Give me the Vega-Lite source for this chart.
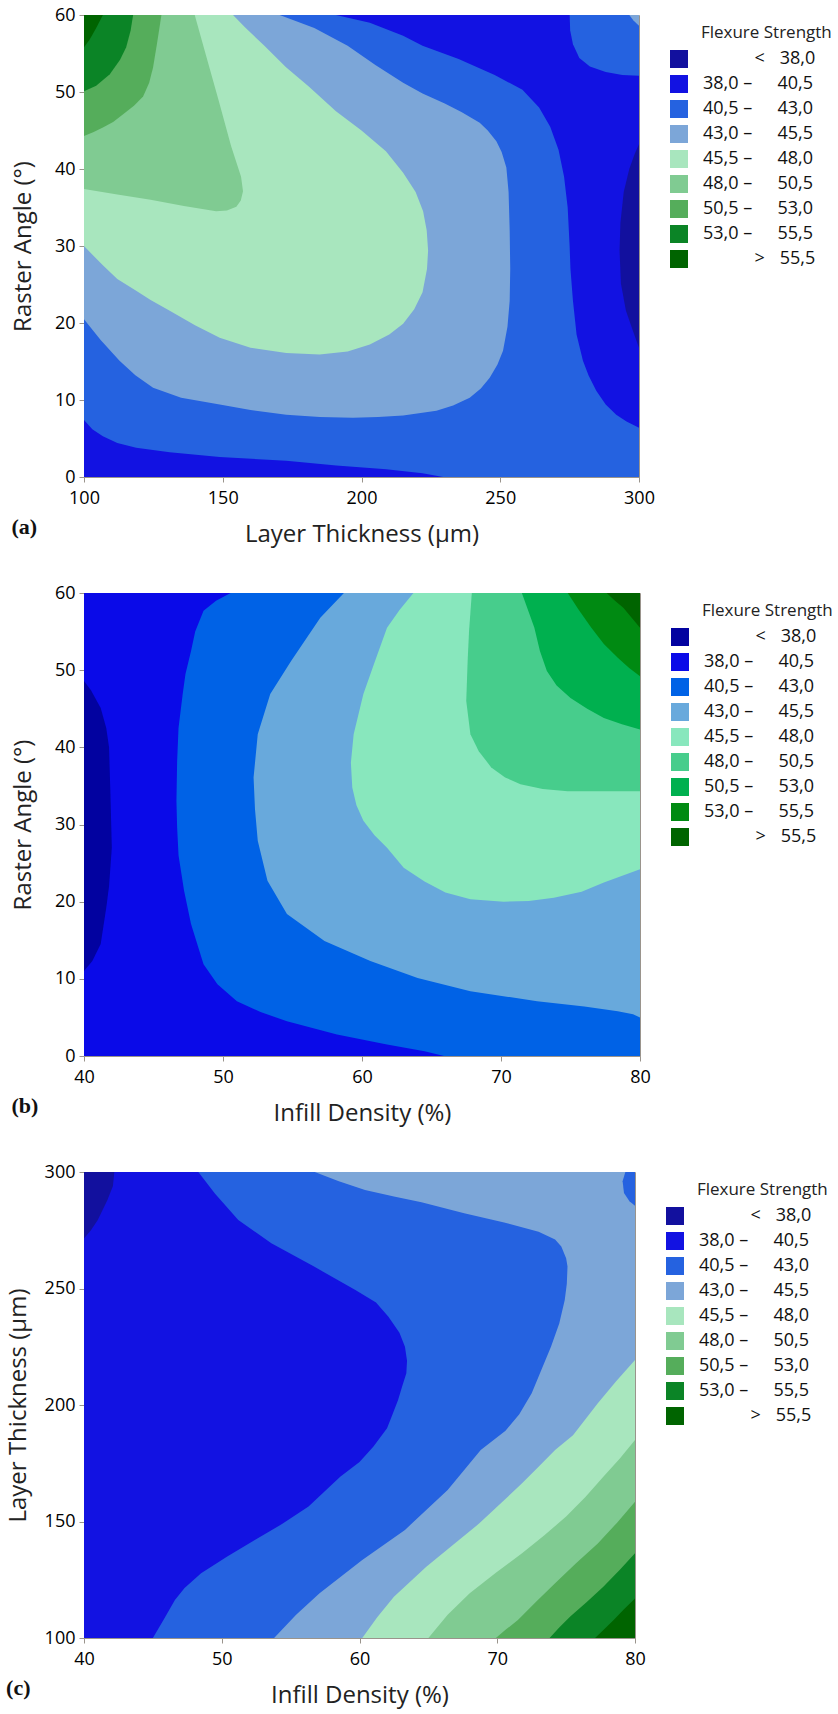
{
"$schema": "https://vega.github.io/schema/vega-lite/v6.json",
"background": "white",
"padding": {"left": 5, "top": 5, "right": 0, "bottom": 5},
"spacing": 36,
"config": {
  "font": "Open Sans",
  "view": {"stroke": "#9a948c", "strokeWidth": 1},
  "axis": {"grid": false, "domainColor": "#9a948c", "tickColor": "#9a948c", "tickSize": 5, "labelFontSize": 18, "labelColor": "#000", "labelFlush": false, "labelOverlap": false, "titleFontSize": 24, "titleFontWeight": "normal", "titleColor": "#222", "titlePadding": 14, "labelPadding": 4},
  "axisX": {"labelPadding": 7, "titlePadding": 15},
  "legend": {"orient": "none", "legendY": 10, "padding": 0, "symbolType": "square", "symbolSize": 324, "symbolStrokeWidth": 0, "labelFontSize": 18, "labelColor": "#111", "titleFontSize": 17, "titleFontWeight": "normal", "titleColor": "#222", "titlePadding": 8, "rowPadding": 7, "labelOffset": 15, "labelLimit": 200, "titleLimit": 250}
},
"datasets": {
"a": [
{"p":"a0","o":0,"c":1,"x":100,"y":0},{"p":"a0","o":0,"c":1,"x":300,"y":0},{"p":"a0","o":0,"c":1,"x":300,"y":60},{"p":"a0","o":0,"c":1,"x":100,"y":60},
{"p":"a1","o":1,"c":2,"x":100,"y":60},{"p":"a1","o":1,"c":2,"x":100,"y":7.4},{"p":"a1","o":1,"c":2,"x":103,"y":6.2},{"p":"a1","o":1,"c":2,"x":106.8,"y":5.3},{"p":"a1","o":1,"c":2,"x":112,"y":4.4},{"p":"a1","o":1,"c":2,"x":118.8,"y":3.8},{"p":"a1","o":1,"c":2,"x":130.9,"y":3.2},{"p":"a1","o":1,"c":2,"x":148.9,"y":2.6},{"p":"a1","o":1,"c":2,"x":172.9,"y":2.1},{"p":"a1","o":1,"c":2,"x":190.9,"y":1.5},{"p":"a1","o":1,"c":2,"x":208.9,"y":1.0},{"p":"a1","o":1,"c":2,"x":222,"y":0.5},{"p":"a1","o":1,"c":2,"x":229.4,"y":0},{"p":"a1","o":1,"c":2,"x":300,"y":0},{"p":"a1","o":1,"c":2,"x":300,"y":6.4},{"p":"a1","o":1,"c":2,"x":295.5,"y":7.2},{"p":"a1","o":1,"c":2,"x":291.8,"y":8.1},{"p":"a1","o":1,"c":2,"x":288,"y":9.4},{"p":"a1","o":1,"c":2,"x":284.6,"y":11.2},{"p":"a1","o":1,"c":2,"x":281.8,"y":13.2},{"p":"a1","o":1,"c":2,"x":279.8,"y":15.1},{"p":"a1","o":1,"c":2,"x":277.5,"y":18.5},{"p":"a1","o":1,"c":2,"x":276.2,"y":22.9},{"p":"a1","o":1,"c":2,"x":275.3,"y":27},{"p":"a1","o":1,"c":2,"x":275,"y":30},{"p":"a1","o":1,"c":2,"x":274.3,"y":35},{"p":"a1","o":1,"c":2,"x":273,"y":39},{"p":"a1","o":1,"c":2,"x":271,"y":42.5},{"p":"a1","o":1,"c":2,"x":268,"y":45.5},{"p":"a1","o":1,"c":2,"x":264,"y":48},{"p":"a1","o":1,"c":2,"x":258,"y":50.3},{"p":"a1","o":1,"c":2,"x":248,"y":52.2},{"p":"a1","o":1,"c":2,"x":235,"y":54.3},{"p":"a1","o":1,"c":2,"x":222,"y":56},{"p":"a1","o":1,"c":2,"x":215,"y":57.3},{"p":"a1","o":1,"c":2,"x":203,"y":59},{"p":"a1","o":1,"c":2,"x":190.8,"y":60},
{"p":"a2","o":1,"c":2,"x":275,"y":60},{"p":"a2","o":1,"c":2,"x":275.2,"y":58},{"p":"a2","o":1,"c":2,"x":276.2,"y":56.2},{"p":"a2","o":1,"c":2,"x":278.5,"y":54.4},{"p":"a2","o":1,"c":2,"x":282.3,"y":53.3},{"p":"a2","o":1,"c":2,"x":288,"y":52.6},{"p":"a2","o":1,"c":2,"x":294,"y":52.2},{"p":"a2","o":1,"c":2,"x":300,"y":52.1},{"p":"a2","o":1,"c":2,"x":300,"y":60},
{"p":"a4","o":1,"c":0,"x":300,"y":43.2},{"p":"a4","o":1,"c":0,"x":298.5,"y":42},{"p":"a4","o":1,"c":0,"x":296.5,"y":40},{"p":"a4","o":1,"c":0,"x":294.5,"y":37},{"p":"a4","o":1,"c":0,"x":293.3,"y":33},{"p":"a4","o":1,"c":0,"x":293,"y":29.4},{"p":"a4","o":1,"c":0,"x":293.5,"y":25.1},{"p":"a4","o":1,"c":0,"x":295.3,"y":21.6},{"p":"a4","o":1,"c":0,"x":297.8,"y":19},{"p":"a4","o":1,"c":0,"x":300,"y":16.8},
{"p":"a3","o":2,"c":3,"x":296.5,"y":60},{"p":"a3","o":2,"c":3,"x":298,"y":59.3},{"p":"a3","o":2,"c":3,"x":300,"y":58.6},{"p":"a3","o":2,"c":3,"x":300,"y":60},
{"p":"a5","o":2,"c":3,"x":100,"y":60},{"p":"a5","o":2,"c":3,"x":100,"y":20.5},{"p":"a5","o":2,"c":3,"x":106,"y":17.8},{"p":"a5","o":2,"c":3,"x":112.8,"y":15.1},{"p":"a5","o":2,"c":3,"x":118.5,"y":13.2},{"p":"a5","o":2,"c":3,"x":124.9,"y":11.6},{"p":"a5","o":2,"c":3,"x":135,"y":10.3},{"p":"a5","o":2,"c":3,"x":148.9,"y":9.4},{"p":"a5","o":2,"c":3,"x":160,"y":8.7},{"p":"a5","o":2,"c":3,"x":172.9,"y":8.1},{"p":"a5","o":2,"c":3,"x":185,"y":7.8},{"p":"a5","o":2,"c":3,"x":196.9,"y":7.7},{"p":"a5","o":2,"c":3,"x":206,"y":7.8},{"p":"a5","o":2,"c":3,"x":215,"y":8.0},{"p":"a5","o":2,"c":3,"x":227,"y":8.6},{"p":"a5","o":2,"c":3,"x":233,"y":9.3},{"p":"a5","o":2,"c":3,"x":239,"y":10.3},{"p":"a5","o":2,"c":3,"x":243,"y":11.5},{"p":"a5","o":2,"c":3,"x":246.2,"y":12.9},{"p":"a5","o":2,"c":3,"x":249,"y":14.6},{"p":"a5","o":2,"c":3,"x":251,"y":16.4},{"p":"a5","o":2,"c":3,"x":252.6,"y":19.5},{"p":"a5","o":2,"c":3,"x":253.4,"y":22.9},{"p":"a5","o":2,"c":3,"x":253.6,"y":27},{"p":"a5","o":2,"c":3,"x":253.4,"y":32},{"p":"a5","o":2,"c":3,"x":253,"y":37},{"p":"a5","o":2,"c":3,"x":252.2,"y":40.2},{"p":"a5","o":2,"c":3,"x":250.5,"y":42.2},{"p":"a5","o":2,"c":3,"x":248.6,"y":43.6},{"p":"a5","o":2,"c":3,"x":245.5,"y":45},{"p":"a5","o":2,"c":3,"x":242.6,"y":46},{"p":"a5","o":2,"c":3,"x":236,"y":47.4},{"p":"a5","o":2,"c":3,"x":230,"y":48.5},{"p":"a5","o":2,"c":3,"x":222,"y":49.8},{"p":"a5","o":2,"c":3,"x":215,"y":51.2},{"p":"a5","o":2,"c":3,"x":205,"y":53.5},{"p":"a5","o":2,"c":3,"x":195,"y":56},{"p":"a5","o":2,"c":3,"x":183,"y":58.3},{"p":"a5","o":2,"c":3,"x":170.5,"y":60},
{"p":"a6","o":3,"c":4,"x":100,"y":60},{"p":"a6","o":3,"c":4,"x":100,"y":30},{"p":"a6","o":3,"c":4,"x":103.5,"y":28.7},{"p":"a6","o":3,"c":4,"x":106.8,"y":27.5},{"p":"a6","o":3,"c":4,"x":112,"y":25.7},{"p":"a6","o":3,"c":4,"x":118.8,"y":24.2},{"p":"a6","o":3,"c":4,"x":124,"y":23},{"p":"a6","o":3,"c":4,"x":130.9,"y":21.6},{"p":"a6","o":3,"c":4,"x":140,"y":19.7},{"p":"a6","o":3,"c":4,"x":148.9,"y":18.1},{"p":"a6","o":3,"c":4,"x":160,"y":16.8},{"p":"a6","o":3,"c":4,"x":172.9,"y":16.1},{"p":"a6","o":3,"c":4,"x":184.9,"y":15.9},{"p":"a6","o":3,"c":4,"x":195,"y":16.3},{"p":"a6","o":3,"c":4,"x":203,"y":17.2},{"p":"a6","o":3,"c":4,"x":210,"y":18.5},{"p":"a6","o":3,"c":4,"x":215,"y":19.9},{"p":"a6","o":3,"c":4,"x":219,"y":21.8},{"p":"a6","o":3,"c":4,"x":222,"y":24},{"p":"a6","o":3,"c":4,"x":223.6,"y":27},{"p":"a6","o":3,"c":4,"x":224,"y":29.4},{"p":"a6","o":3,"c":4,"x":223.5,"y":32},{"p":"a6","o":3,"c":4,"x":222.2,"y":34.5},{"p":"a6","o":3,"c":4,"x":219.5,"y":37},{"p":"a6","o":3,"c":4,"x":215,"y":39.5},{"p":"a6","o":3,"c":4,"x":208.8,"y":42.3},{"p":"a6","o":3,"c":4,"x":200,"y":45},{"p":"a6","o":3,"c":4,"x":190.8,"y":47.5},{"p":"a6","o":3,"c":4,"x":181,"y":50.7},{"p":"a6","o":3,"c":4,"x":172.8,"y":53.2},{"p":"a6","o":3,"c":4,"x":165,"y":56},{"p":"a6","o":3,"c":4,"x":158,"y":58.4},{"p":"a6","o":3,"c":4,"x":153.7,"y":60},
{"p":"a7","o":4,"c":5,"x":100,"y":60},{"p":"a7","o":4,"c":5,"x":100,"y":37.4},{"p":"a7","o":4,"c":5,"x":112,"y":36.7},{"p":"a7","o":4,"c":5,"x":124,"y":36},{"p":"a7","o":4,"c":5,"x":136,"y":35.2},{"p":"a7","o":4,"c":5,"x":147.6,"y":34.5},{"p":"a7","o":4,"c":5,"x":151.5,"y":34.6},{"p":"a7","o":4,"c":5,"x":154.9,"y":35.1},{"p":"a7","o":4,"c":5,"x":156.5,"y":35.9},{"p":"a7","o":4,"c":5,"x":157.3,"y":37.1},{"p":"a7","o":4,"c":5,"x":156.6,"y":39},{"p":"a7","o":4,"c":5,"x":153,"y":43},{"p":"a7","o":4,"c":5,"x":148.6,"y":48.8},{"p":"a7","o":4,"c":5,"x":144,"y":54.7},{"p":"a7","o":4,"c":5,"x":139.9,"y":60},
{"p":"a8","o":5,"c":6,"x":100,"y":60},{"p":"a8","o":5,"c":6,"x":100,"y":44.3},{"p":"a8","o":5,"c":6,"x":103.5,"y":44.8},{"p":"a8","o":5,"c":6,"x":106.8,"y":45.4},{"p":"a8","o":5,"c":6,"x":110.5,"y":46.1},{"p":"a8","o":5,"c":6,"x":114.1,"y":47.1},{"p":"a8","o":5,"c":6,"x":118,"y":48.2},{"p":"a8","o":5,"c":6,"x":121.3,"y":49.4},{"p":"a8","o":5,"c":6,"x":123.5,"y":51.2},{"p":"a8","o":5,"c":6,"x":124.9,"y":53.2},{"p":"a8","o":5,"c":6,"x":126.4,"y":56.5},{"p":"a8","o":5,"c":6,"x":127.9,"y":60},
{"p":"a9","o":6,"c":7,"x":100,"y":60},{"p":"a9","o":6,"c":7,"x":100,"y":50.1},{"p":"a9","o":6,"c":7,"x":104.4,"y":50.8},{"p":"a9","o":6,"c":7,"x":109.3,"y":52.3},{"p":"a9","o":6,"c":7,"x":113,"y":54.2},{"p":"a9","o":6,"c":7,"x":115.2,"y":55.8},{"p":"a9","o":6,"c":7,"x":116.8,"y":58},{"p":"a9","o":6,"c":7,"x":117.7,"y":60},
{"p":"a10","o":7,"c":8,"x":100,"y":60},{"p":"a10","o":7,"c":8,"x":100,"y":55.8},{"p":"a10","o":7,"c":8,"x":102,"y":56.8},{"p":"a10","o":7,"c":8,"x":104.4,"y":58.3},{"p":"a10","o":7,"c":8,"x":106.8,"y":60}
],
"b": [
{"p":"b0","o":0,"c":1,"x":40,"y":0},{"p":"b0","o":0,"c":1,"x":80,"y":0},{"p":"b0","o":0,"c":1,"x":80,"y":60},{"p":"b0","o":0,"c":1,"x":40,"y":60},
{"p":"b1","o":1,"c":0,"x":40,"y":48.6},{"p":"b1","o":1,"c":0,"x":40.5,"y":47.4},{"p":"b1","o":1,"c":0,"x":41.2,"y":45.1},{"p":"b1","o":1,"c":0,"x":41.6,"y":42.5},{"p":"b1","o":1,"c":0,"x":41.8,"y":40},{"p":"b1","o":1,"c":0,"x":41.9,"y":34},{"p":"b1","o":1,"c":0,"x":42,"y":27},{"p":"b1","o":1,"c":0,"x":41.8,"y":22},{"p":"b1","o":1,"c":0,"x":41.6,"y":19.2},{"p":"b1","o":1,"c":0,"x":41.2,"y":14.5},{"p":"b1","o":1,"c":0,"x":40.6,"y":12.3},{"p":"b1","o":1,"c":0,"x":40,"y":11},
{"p":"b2","o":1,"c":2,"x":50.55,"y":60},{"p":"b2","o":1,"c":2,"x":49.5,"y":59},{"p":"b2","o":1,"c":2,"x":48.6,"y":57.7},{"p":"b2","o":1,"c":2,"x":48,"y":55},{"p":"b2","o":1,"c":2,"x":47.7,"y":52.5},{"p":"b2","o":1,"c":2,"x":47.3,"y":49.5},{"p":"b2","o":1,"c":2,"x":47.1,"y":46.9},{"p":"b2","o":1,"c":2,"x":46.8,"y":42.5},{"p":"b2","o":1,"c":2,"x":46.7,"y":38.2},{"p":"b2","o":1,"c":2,"x":46.65,"y":33},{"p":"b2","o":1,"c":2,"x":46.7,"y":29.6},{"p":"b2","o":1,"c":2,"x":46.8,"y":26},{"p":"b2","o":1,"c":2,"x":47.2,"y":21.4},{"p":"b2","o":1,"c":2,"x":47.7,"y":17.1},{"p":"b2","o":1,"c":2,"x":48.6,"y":11.9},{"p":"b2","o":1,"c":2,"x":49.6,"y":9.3},{"p":"b2","o":1,"c":2,"x":51,"y":7.1},{"p":"b2","o":1,"c":2,"x":52.7,"y":5.7},{"p":"b2","o":1,"c":2,"x":54.6,"y":4.5},{"p":"b2","o":1,"c":2,"x":58.2,"y":2.8},{"p":"b2","o":1,"c":2,"x":61.8,"y":1.5},{"p":"b2","o":1,"c":2,"x":64.5,"y":0.6},{"p":"b2","o":1,"c":2,"x":65.9,"y":0},{"p":"b2","o":1,"c":2,"x":80,"y":0},{"p":"b2","o":1,"c":2,"x":80,"y":60},
{"p":"b3","o":2,"c":3,"x":58.7,"y":60},{"p":"b3","o":2,"c":3,"x":57,"y":56.8},{"p":"b3","o":2,"c":3,"x":54.9,"y":51.2},{"p":"b3","o":2,"c":3,"x":53.4,"y":46.9},{"p":"b3","o":2,"c":3,"x":52.5,"y":41.7},{"p":"b3","o":2,"c":3,"x":52.2,"y":36.1},{"p":"b3","o":2,"c":3,"x":52.3,"y":32},{"p":"b3","o":2,"c":3,"x":52.5,"y":27.9},{"p":"b3","o":2,"c":3,"x":53.2,"y":22.7},{"p":"b3","o":2,"c":3,"x":54.6,"y":18.4},{"p":"b3","o":2,"c":3,"x":57.3,"y":14.9},{"p":"b3","o":2,"c":3,"x":60.6,"y":12.3},{"p":"b3","o":2,"c":3,"x":64,"y":10.1},{"p":"b3","o":2,"c":3,"x":67.8,"y":8.4},{"p":"b3","o":2,"c":3,"x":72.6,"y":7.1},{"p":"b3","o":2,"c":3,"x":76,"y":6.4},{"p":"b3","o":2,"c":3,"x":78.4,"y":5.8},{"p":"b3","o":2,"c":3,"x":79.5,"y":5.4},{"p":"b3","o":2,"c":3,"x":80,"y":5},{"p":"b3","o":2,"c":3,"x":80,"y":60},
{"p":"b4","o":3,"c":4,"x":63.7,"y":60},{"p":"b4","o":3,"c":4,"x":62.7,"y":57.8},{"p":"b4","o":3,"c":4,"x":61.8,"y":55.5},{"p":"b4","o":3,"c":4,"x":60.9,"y":51},{"p":"b4","o":3,"c":4,"x":60.1,"y":46.9},{"p":"b4","o":3,"c":4,"x":59.4,"y":41.7},{"p":"b4","o":3,"c":4,"x":59.2,"y":38},{"p":"b4","o":3,"c":4,"x":59.3,"y":34.8},{"p":"b4","o":3,"c":4,"x":59.6,"y":32.5},{"p":"b4","o":3,"c":4,"x":60.1,"y":30.5},{"p":"b4","o":3,"c":4,"x":60.9,"y":28.6},{"p":"b4","o":3,"c":4,"x":61.8,"y":27},{"p":"b4","o":3,"c":4,"x":63,"y":24.4},{"p":"b4","o":3,"c":4,"x":64.5,"y":22.6},{"p":"b4","o":3,"c":4,"x":66,"y":21.2},{"p":"b4","o":3,"c":4,"x":67.8,"y":20.3},{"p":"b4","o":3,"c":4,"x":70.2,"y":20},{"p":"b4","o":3,"c":4,"x":72,"y":20.1},{"p":"b4","o":3,"c":4,"x":73.8,"y":20.5},{"p":"b4","o":3,"c":4,"x":75.8,"y":21.3},{"p":"b4","o":3,"c":4,"x":77.4,"y":22.5},{"p":"b4","o":3,"c":4,"x":80,"y":24.2},{"p":"b4","o":3,"c":4,"x":80,"y":60},
{"p":"b5","o":4,"c":5,"x":67.9,"y":60},{"p":"b5","o":4,"c":5,"x":67.7,"y":55},{"p":"b5","o":4,"c":5,"x":67.6,"y":51.2},{"p":"b5","o":4,"c":5,"x":67.5,"y":46},{"p":"b5","o":4,"c":5,"x":67.8,"y":41.7},{"p":"b5","o":4,"c":5,"x":68.4,"y":39.5},{"p":"b5","o":4,"c":5,"x":69.3,"y":37.4},{"p":"b5","o":4,"c":5,"x":70.3,"y":36.1},{"p":"b5","o":4,"c":5,"x":71.4,"y":35.2},{"p":"b5","o":4,"c":5,"x":73,"y":34.6},{"p":"b5","o":4,"c":5,"x":74.8,"y":34.3},{"p":"b5","o":4,"c":5,"x":80,"y":34.3},{"p":"b5","o":4,"c":5,"x":80,"y":60},
{"p":"b6","o":5,"c":6,"x":71.5,"y":60},{"p":"b6","o":5,"c":6,"x":72,"y":57.5},{"p":"b6","o":5,"c":6,"x":72.4,"y":55.5},{"p":"b6","o":5,"c":6,"x":72.8,"y":52.5},{"p":"b6","o":5,"c":6,"x":73.3,"y":49.9},{"p":"b6","o":5,"c":6,"x":74,"y":48},{"p":"b6","o":5,"c":6,"x":75,"y":46.4},{"p":"b6","o":5,"c":6,"x":76.2,"y":45},{"p":"b6","o":5,"c":6,"x":77.4,"y":43.8},{"p":"b6","o":5,"c":6,"x":78.7,"y":43},{"p":"b6","o":5,"c":6,"x":80,"y":42.3},{"p":"b6","o":5,"c":6,"x":80,"y":60},
{"p":"b7","o":6,"c":7,"x":74.8,"y":60},{"p":"b7","o":6,"c":7,"x":75.6,"y":57.8},{"p":"b7","o":6,"c":7,"x":76.5,"y":55.5},{"p":"b7","o":6,"c":7,"x":77.4,"y":53.4},{"p":"b7","o":6,"c":7,"x":78.4,"y":51.6},{"p":"b7","o":6,"c":7,"x":79.2,"y":50.3},{"p":"b7","o":6,"c":7,"x":80,"y":49.2},{"p":"b7","o":6,"c":7,"x":80,"y":60},
{"p":"b8","o":7,"c":8,"x":77.6,"y":60},{"p":"b8","o":7,"c":8,"x":78.2,"y":59},{"p":"b8","o":7,"c":8,"x":78.8,"y":58.1},{"p":"b8","o":7,"c":8,"x":79.4,"y":56.8},{"p":"b8","o":7,"c":8,"x":80,"y":55.5},{"p":"b8","o":7,"c":8,"x":80,"y":60}
],
"c": [
{"p":"c0","o":0,"c":1,"x":40,"y":100},{"p":"c0","o":0,"c":1,"x":80,"y":100},{"p":"c0","o":0,"c":1,"x":80,"y":300},{"p":"c0","o":0,"c":1,"x":40,"y":300},
{"p":"c1","o":1,"c":0,"x":40,"y":300},{"p":"c1","o":1,"c":0,"x":42.2,"y":300},{"p":"c1","o":1,"c":0,"x":42.1,"y":294},{"p":"c1","o":1,"c":0,"x":41.7,"y":288},{"p":"c1","o":1,"c":0,"x":41,"y":279.4},{"p":"c1","o":1,"c":0,"x":40.5,"y":275},{"p":"c1","o":1,"c":0,"x":40,"y":271.5},
{"p":"c2","o":1,"c":2,"x":48.3,"y":300},{"p":"c2","o":1,"c":2,"x":49.5,"y":290.8},{"p":"c2","o":1,"c":2,"x":51.2,"y":279.4},{"p":"c2","o":1,"c":2,"x":53.6,"y":269.4},{"p":"c2","o":1,"c":2,"x":56.7,"y":259.4},{"p":"c2","o":1,"c":2,"x":59.7,"y":249.4},{"p":"c2","o":1,"c":2,"x":61.2,"y":244},{"p":"c2","o":1,"c":2,"x":62.1,"y":237.9},{"p":"c2","o":1,"c":2,"x":62.9,"y":231},{"p":"c2","o":1,"c":2,"x":63.3,"y":225},{"p":"c2","o":1,"c":2,"x":63.45,"y":219},{"p":"c2","o":1,"c":2,"x":63.4,"y":213.6},{"p":"c2","o":1,"c":2,"x":63.1,"y":208},{"p":"c2","o":1,"c":2,"x":62.8,"y":202.1},{"p":"c2","o":1,"c":2,"x":62.4,"y":196},{"p":"c2","o":1,"c":2,"x":62,"y":190},{"p":"c2","o":1,"c":2,"x":61,"y":182.1},{"p":"c2","o":1,"c":2,"x":60,"y":175.5},{"p":"c2","o":1,"c":2,"x":58.6,"y":169.2},{"p":"c2","o":1,"c":2,"x":56.3,"y":156.4},{"p":"c2","o":1,"c":2,"x":54.4,"y":149},{"p":"c2","o":1,"c":2,"x":52.4,"y":142.1},{"p":"c2","o":1,"c":2,"x":50.4,"y":135},{"p":"c2","o":1,"c":2,"x":48.5,"y":127.8},{"p":"c2","o":1,"c":2,"x":47.3,"y":121.5},{"p":"c2","o":1,"c":2,"x":46.6,"y":116.3},{"p":"c2","o":1,"c":2,"x":45.8,"y":108},{"p":"c2","o":1,"c":2,"x":45,"y":100},{"p":"c2","o":1,"c":2,"x":80,"y":100},{"p":"c2","o":1,"c":2,"x":80,"y":300},
{"p":"c3","o":2,"c":3,"x":56.75,"y":300},{"p":"c3","o":2,"c":3,"x":58.5,"y":296},{"p":"c3","o":2,"c":3,"x":60.4,"y":292.3},{"p":"c3","o":2,"c":3,"x":62.5,"y":289.5},{"p":"c3","o":2,"c":3,"x":64.5,"y":287},{"p":"c3","o":2,"c":3,"x":67.6,"y":282.3},{"p":"c3","o":2,"c":3,"x":70.5,"y":278.3},{"p":"c3","o":2,"c":3,"x":73,"y":274.4},{"p":"c3","o":2,"c":3,"x":74.2,"y":271},{"p":"c3","o":2,"c":3,"x":74.65,"y":268},{"p":"c3","o":2,"c":3,"x":75,"y":263},{"p":"c3","o":2,"c":3,"x":75.1,"y":259.4},{"p":"c3","o":2,"c":3,"x":75.05,"y":252},{"p":"c3","o":2,"c":3,"x":74.9,"y":245.1},{"p":"c3","o":2,"c":3,"x":74.5,"y":235},{"p":"c3","o":2,"c":3,"x":73.9,"y":225},{"p":"c3","o":2,"c":3,"x":73.2,"y":215},{"p":"c3","o":2,"c":3,"x":72.5,"y":205},{"p":"c3","o":2,"c":3,"x":71.6,"y":196},{"p":"c3","o":2,"c":3,"x":70.6,"y":189},{"p":"c3","o":2,"c":3,"x":68.8,"y":180.7},{"p":"c3","o":2,"c":3,"x":66.4,"y":163.5},{"p":"c3","o":2,"c":3,"x":63.3,"y":146.4},{"p":"c3","o":2,"c":3,"x":60.2,"y":133.5},{"p":"c3","o":2,"c":3,"x":57.1,"y":119.2},{"p":"c3","o":2,"c":3,"x":55.4,"y":110},{"p":"c3","o":2,"c":3,"x":53.8,"y":100},{"p":"c3","o":2,"c":3,"x":80,"y":100},{"p":"c3","o":2,"c":3,"x":80,"y":300},
{"p":"c4","o":3,"c":2,"x":79.3,"y":300},{"p":"c4","o":3,"c":2,"x":79.1,"y":296},{"p":"c4","o":3,"c":2,"x":79.2,"y":291},{"p":"c4","o":3,"c":2,"x":79.6,"y":287.5},{"p":"c4","o":3,"c":2,"x":80,"y":285.5},{"p":"c4","o":3,"c":2,"x":80,"y":300},
{"p":"c5","o":3,"c":4,"x":60.2,"y":100},{"p":"c5","o":3,"c":4,"x":61.3,"y":109},{"p":"c5","o":3,"c":4,"x":62.5,"y":117.7},{"p":"c5","o":3,"c":4,"x":64.85,"y":130.6},{"p":"c5","o":3,"c":4,"x":66.8,"y":140},{"p":"c5","o":3,"c":4,"x":68.7,"y":149.2},{"p":"c5","o":3,"c":4,"x":70.3,"y":158},{"p":"c5","o":3,"c":4,"x":71.8,"y":166.4},{"p":"c5","o":3,"c":4,"x":73,"y":173.5},{"p":"c5","o":3,"c":4,"x":74.2,"y":180.7},{"p":"c5","o":3,"c":4,"x":75.5,"y":187},{"p":"c5","o":3,"c":4,"x":77.3,"y":200.7},{"p":"c5","o":3,"c":4,"x":78.6,"y":210},{"p":"c5","o":3,"c":4,"x":80,"y":219.3},{"p":"c5","o":3,"c":4,"x":80,"y":100},
{"p":"c6","o":4,"c":5,"x":65,"y":100},{"p":"c6","o":4,"c":5,"x":66.4,"y":110},{"p":"c6","o":4,"c":5,"x":68,"y":119.2},{"p":"c6","o":4,"c":5,"x":69.9,"y":128},{"p":"c6","o":4,"c":5,"x":71.8,"y":136.4},{"p":"c6","o":4,"c":5,"x":73.4,"y":144},{"p":"c6","o":4,"c":5,"x":75,"y":152.1},{"p":"c6","o":4,"c":5,"x":76.4,"y":160.5},{"p":"c6","o":4,"c":5,"x":77.7,"y":169.2},{"p":"c6","o":4,"c":5,"x":78.9,"y":177},{"p":"c6","o":4,"c":5,"x":80,"y":185},{"p":"c6","o":4,"c":5,"x":80,"y":100},
{"p":"c7","o":5,"c":6,"x":69.9,"y":100},{"p":"c7","o":5,"c":6,"x":70.6,"y":103.5},{"p":"c7","o":5,"c":6,"x":71.5,"y":107.7},{"p":"c7","o":5,"c":6,"x":72.8,"y":115.5},{"p":"c7","o":5,"c":6,"x":74.2,"y":123.5},{"p":"c7","o":5,"c":6,"x":75.7,"y":132},{"p":"c7","o":5,"c":6,"x":77.3,"y":140.6},{"p":"c7","o":5,"c":6,"x":78.7,"y":149.5},{"p":"c7","o":5,"c":6,"x":80,"y":158.5},{"p":"c7","o":5,"c":6,"x":80,"y":100},
{"p":"c8","o":6,"c":7,"x":73.8,"y":100},{"p":"c8","o":6,"c":7,"x":74.5,"y":104.5},{"p":"c8","o":6,"c":7,"x":75.3,"y":109.2},{"p":"c8","o":6,"c":7,"x":76.5,"y":115.5},{"p":"c8","o":6,"c":7,"x":77.7,"y":122},{"p":"c8","o":6,"c":7,"x":78.9,"y":129.3},{"p":"c8","o":6,"c":7,"x":80,"y":136.4},{"p":"c8","o":6,"c":7,"x":80,"y":100},
{"p":"c9","o":7,"c":8,"x":77.1,"y":100},{"p":"c9","o":7,"c":8,"x":77.8,"y":104},{"p":"c9","o":7,"c":8,"x":78.45,"y":107.7},{"p":"c9","o":7,"c":8,"x":79.2,"y":112.3},{"p":"c9","o":7,"c":8,"x":80,"y":117},{"p":"c9","o":7,"c":8,"x":80,"y":100}
]
},
"vconcat": [
{
  "width": 555, "height": 462,
  "title": {"text": "(a)", "orient": "bottom", "anchor": "start", "frame": "bounds", "font": "Liberation Serif", "fontWeight": "bold", "fontSize": 22, "offset": -29, "color": "#111"},
  "data": {"name": "a"},
  "encoding": {
    "x": {"field": "x", "type": "quantitative", "scale": {"domain": [100, 300], "nice": false, "zero": false}, "axis": {"values": [100, 150, 200, 250, 300], "title": "Layer Thickness (μm)"}},
    "y": {"field": "y", "type": "quantitative", "scale": {"domain": [0, 60], "nice": false, "zero": false}, "axis": {"values": [0, 10, 20, 30, 40, 50, 60], "title": "Raster Angle (°)", "titlePadding": 19}},
    "color": {"field": "c", "type": "nominal", "scale": {"domain": [0, 1, 2, 3, 4, 5, 6, 7, 8], "range": ["#12109e", "#1212e2", "#2562e0", "#7ca6d8", "#a8e6be", "#80cb92", "#55ad5b", "#0b8426", "#006400"]},
      "legend": {"title": "\u200b\u00a0\u00a0\u00a0\u00a0\u00a0\u00a0\u00a0Flexure Strength", "legendX": 586, "labelExpr": "['\u200b\u2007\u2007\u2007\u2007\u2007<\u2007\u00a038,0','38,0\u00a0\u2013\u2007\u2007\u00a040,5','40,5\u00a0\u2013\u2007\u2007\u00a043,0','43,0\u00a0\u2013\u2007\u2007\u00a045,5','45,5\u00a0\u2013\u2007\u2007\u00a048,0','48,0\u00a0\u2013\u2007\u2007\u00a050,5','50,5\u00a0\u2013\u2007\u2007\u00a053,0','53,0\u00a0\u2013\u2007\u2007\u00a055,5','\u200b\u2007\u2007\u2007\u2007\u2007>\u2007\u00a055,5'][datum.value]"}},
    "detail": {"field": "p", "type": "nominal"},
    "order": {"value": null}
  },
  "layer": [
    {"transform": [{"filter": "datum.o == 0"}], "mark": {"type": "line", "filled": true, "clip": true}},
    {"transform": [{"filter": "datum.o == 1"}], "mark": {"type": "line", "filled": true, "clip": true}},
    {"transform": [{"filter": "datum.o == 2"}], "mark": {"type": "line", "filled": true, "clip": true}},
    {"transform": [{"filter": "datum.o == 3"}], "mark": {"type": "line", "filled": true, "clip": true}},
    {"transform": [{"filter": "datum.o == 4"}], "mark": {"type": "line", "filled": true, "clip": true}},
    {"transform": [{"filter": "datum.o == 5"}], "mark": {"type": "line", "filled": true, "clip": true}},
    {"transform": [{"filter": "datum.o == 6"}], "mark": {"type": "line", "filled": true, "clip": true}},
    {"transform": [{"filter": "datum.o == 7"}], "mark": {"type": "line", "filled": true, "clip": true}}
  ]
},
{
  "width": 556, "height": 463,
  "title": {"text": "(b)", "orient": "bottom", "anchor": "start", "frame": "bounds", "font": "Liberation Serif", "fontWeight": "bold", "fontSize": 22, "offset": -29, "color": "#111"},
  "data": {"name": "b"},
  "encoding": {
    "x": {"field": "x", "type": "quantitative", "scale": {"domain": [40, 80], "nice": false, "zero": false}, "axis": {"values": [40, 50, 60, 70, 80], "title": "Infill Density (%)"}},
    "y": {"field": "y", "type": "quantitative", "scale": {"domain": [0, 60], "nice": false, "zero": false}, "axis": {"values": [0, 10, 20, 30, 40, 50, 60], "title": "Raster Angle (°)", "titlePadding": 19}},
    "color": {"field": "c", "type": "nominal", "scale": {"domain": [0, 1, 2, 3, 4, 5, 6, 7, 8], "range": ["#0202a0", "#0a0ae8", "#0062e6", "#68a9dc", "#88e7bd", "#47cd8c", "#00b04f", "#008a12", "#006400"]},
      "legend": {"title": "\u200b\u00a0\u00a0\u00a0\u00a0\u00a0\u00a0\u00a0Flexure Strength", "legendX": 587, "labelExpr": "['\u200b\u2007\u2007\u2007\u2007\u2007<\u2007\u00a038,0','38,0\u00a0\u2013\u2007\u2007\u00a040,5','40,5\u00a0\u2013\u2007\u2007\u00a043,0','43,0\u00a0\u2013\u2007\u2007\u00a045,5','45,5\u00a0\u2013\u2007\u2007\u00a048,0','48,0\u00a0\u2013\u2007\u2007\u00a050,5','50,5\u00a0\u2013\u2007\u2007\u00a053,0','53,0\u00a0\u2013\u2007\u2007\u00a055,5','\u200b\u2007\u2007\u2007\u2007\u2007>\u2007\u00a055,5'][datum.value]"}},
    "detail": {"field": "p", "type": "nominal"},
    "order": {"value": null}
  },
  "layer": [
    {"transform": [{"filter": "datum.o == 0"}], "mark": {"type": "line", "filled": true, "clip": true}},
    {"transform": [{"filter": "datum.o == 1"}], "mark": {"type": "line", "filled": true, "clip": true}},
    {"transform": [{"filter": "datum.o == 2"}], "mark": {"type": "line", "filled": true, "clip": true}},
    {"transform": [{"filter": "datum.o == 3"}], "mark": {"type": "line", "filled": true, "clip": true}},
    {"transform": [{"filter": "datum.o == 4"}], "mark": {"type": "line", "filled": true, "clip": true}},
    {"transform": [{"filter": "datum.o == 5"}], "mark": {"type": "line", "filled": true, "clip": true}},
    {"transform": [{"filter": "datum.o == 6"}], "mark": {"type": "line", "filled": true, "clip": true}},
    {"transform": [{"filter": "datum.o == 7"}], "mark": {"type": "line", "filled": true, "clip": true}}
  ]
},
{
  "width": 551, "height": 466,
  "title": {"text": "(c)", "orient": "bottom", "anchor": "start", "frame": "bounds", "font": "Liberation Serif", "fontWeight": "bold", "fontSize": 22, "offset": -29, "color": "#111"},
  "data": {"name": "c"},
  "encoding": {
    "x": {"field": "x", "type": "quantitative", "scale": {"domain": [40, 80], "nice": false, "zero": false}, "axis": {"values": [40, 50, 60, 70, 80], "title": "Infill Density (%)"}},
    "y": {"field": "y", "type": "quantitative", "scale": {"domain": [100, 300], "nice": false, "zero": false}, "axis": {"values": [100, 150, 200, 250, 300], "title": "Layer Thickness (μm)"}},
    "color": {"field": "c", "type": "nominal", "scale": {"domain": [0, 1, 2, 3, 4, 5, 6, 7, 8], "range": ["#12109e", "#1212e2", "#2562e0", "#7ca6d8", "#a8e6be", "#80cb92", "#55ad5b", "#0b8426", "#006400"]},
      "legend": {"title": "\u200b\u00a0\u00a0\u00a0\u00a0\u00a0\u00a0\u00a0Flexure Strength", "legendX": 582, "labelExpr": "['\u200b\u2007\u2007\u2007\u2007\u2007<\u2007\u00a038,0','38,0\u00a0\u2013\u2007\u2007\u00a040,5','40,5\u00a0\u2013\u2007\u2007\u00a043,0','43,0\u00a0\u2013\u2007\u2007\u00a045,5','45,5\u00a0\u2013\u2007\u2007\u00a048,0','48,0\u00a0\u2013\u2007\u2007\u00a050,5','50,5\u00a0\u2013\u2007\u2007\u00a053,0','53,0\u00a0\u2013\u2007\u2007\u00a055,5','\u200b\u2007\u2007\u2007\u2007\u2007>\u2007\u00a055,5'][datum.value]"}},
    "detail": {"field": "p", "type": "nominal"},
    "order": {"value": null}
  },
  "layer": [
    {"transform": [{"filter": "datum.o == 0"}], "mark": {"type": "line", "filled": true, "clip": true}},
    {"transform": [{"filter": "datum.o == 1"}], "mark": {"type": "line", "filled": true, "clip": true}},
    {"transform": [{"filter": "datum.o == 2"}], "mark": {"type": "line", "filled": true, "clip": true}},
    {"transform": [{"filter": "datum.o == 3"}], "mark": {"type": "line", "filled": true, "clip": true}},
    {"transform": [{"filter": "datum.o == 4"}], "mark": {"type": "line", "filled": true, "clip": true}},
    {"transform": [{"filter": "datum.o == 5"}], "mark": {"type": "line", "filled": true, "clip": true}},
    {"transform": [{"filter": "datum.o == 6"}], "mark": {"type": "line", "filled": true, "clip": true}},
    {"transform": [{"filter": "datum.o == 7"}], "mark": {"type": "line", "filled": true, "clip": true}}
  ]
}
],
"resolve": {"scale": {"color": "independent", "x": "independent", "y": "independent"}, "legend": {"color": "independent"}}
}
